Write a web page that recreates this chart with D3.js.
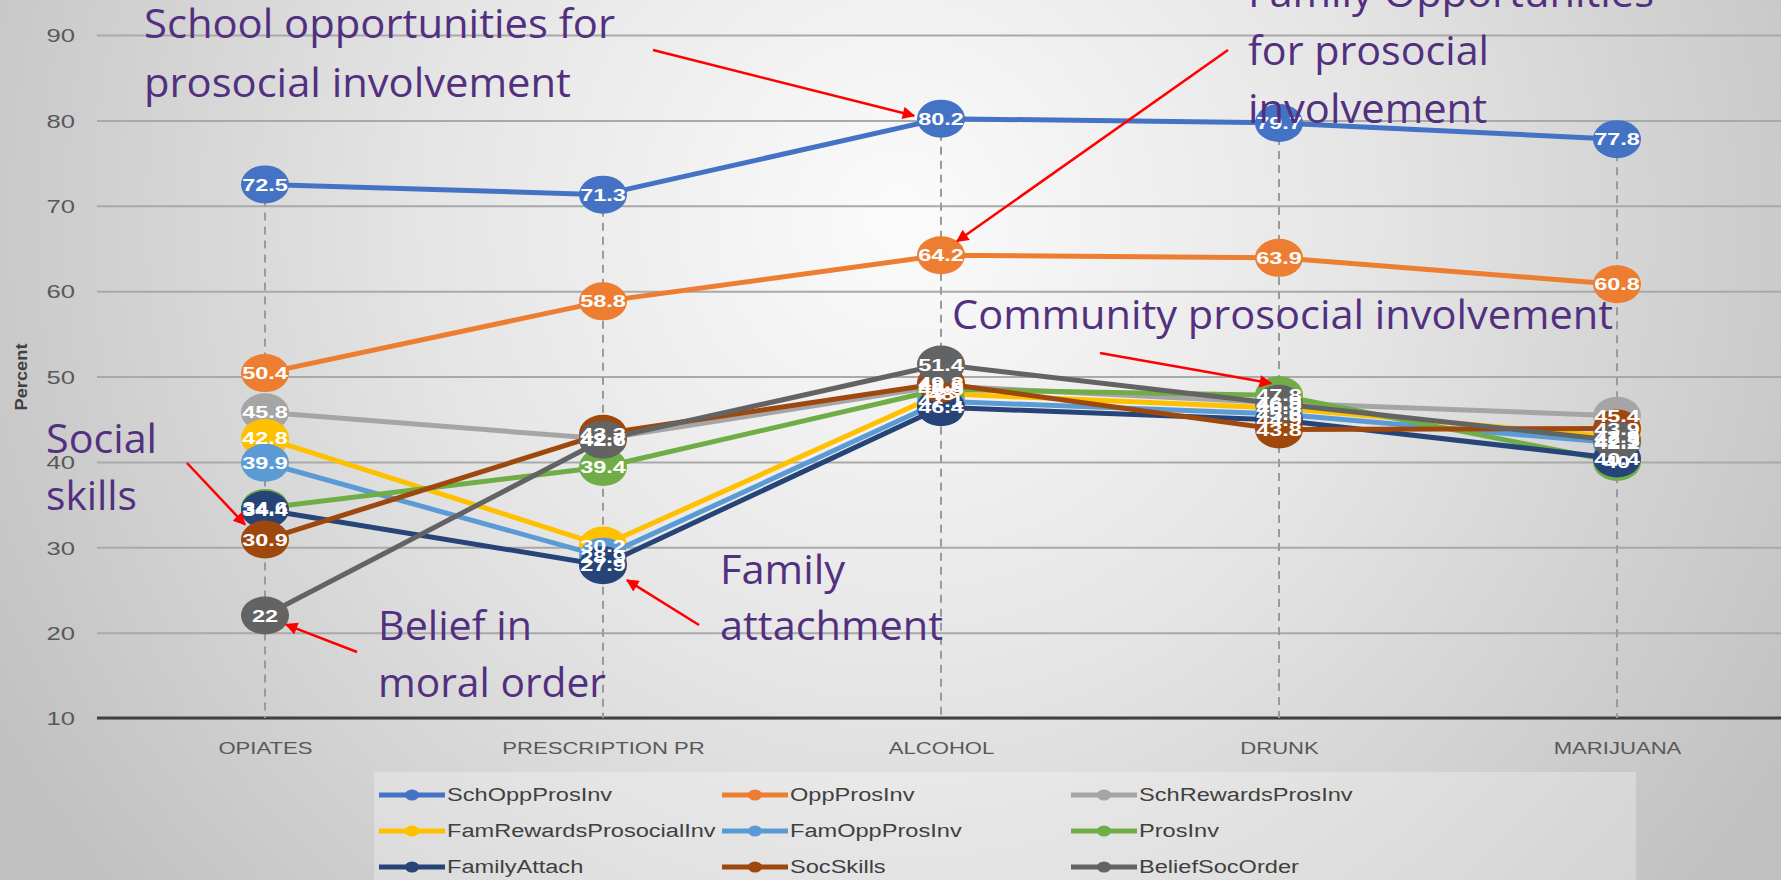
<!DOCTYPE html>
<html lang="en">
<head>
<meta charset="UTF-8">
<title>Prosocial involvement by substance</title>
<script src="https://d3js.org/d3.v7.min.js"></script>
<style>
  html, body { margin: 0; padding: 0; overflow: hidden; }
  svg { display: block; }
</style>
</head>
<body>
<svg id="chart"></svg>
<script>
var width = 1781, height = 880;

// ---- data ----
var categories = ["OPIATES", "PRESCRIPTION PR", "ALCOHOL", "DRUNK", "MARIJUANA"];
var seriesNames = ["SchOppProsInv", "OppProsInv", "SchRewardsProsInv",
                   "FamRewardsProsocialInv", "FamOppProsInv", "ProsInv",
                   "FamilyAttach", "SocSkills", "BeliefSocOrder"];
var seriesColors = ["#4472c4", "#ed7d31", "#a5a5a5",
                    "#ffc000", "#5b9bd5", "#70ad47",
                    "#264478", "#9e480e", "#636363"];

var schOppProsInv     = [72.5, 71.3, 80.2, 79.7, 77.8];
var oppProsInv        = [50.4, 58.8, 64.2, 63.9, 60.8];
var schRewardsProsInv = [45.8, 42.7, 48.9, 46.9, 45.4];
var famRewardsProsInv = [42.8, 30.2, 48.0, 46.3, 42.9];
var famOppProsInv     = [39.9, 28.9, 47.1, 45.6, 42.2];
var prosInv           = [34.6, 39.4, 48.5, 47.8, 40.0];
var familyAttach      = [34.4, 27.9, 46.4, 44.9, 40.4];
var socSkills         = [30.9, 43.3, 49.2, 43.8, 43.9];
var beliefSocOrder    = [22.0, 42.6, 51.4, 46.8, 42.5];

var yTicks = [10, 20, 30, 40, 50, 60, 70, 80, 90];

var seriesValues = [schOppProsInv, oppProsInv, schRewardsProsInv,
                    famRewardsProsInv, famOppProsInv, prosInv,
                    familyAttach, socSkills, beliefSocOrder];

var series = seriesNames.map(function (n, i) {
    return {name: n, color: seriesColors[i], values: seriesValues[i].map(function (v, j) {
        return {cat: categories[j], v: v};
    })};
});

// ---- setup ----
var svg = d3.select("#chart").attr("width", width).attr("height", height);
var defs = svg.append("defs");

var bg = defs.append("radialGradient").attr("id", "bg")
    .attr("gradientUnits", "userSpaceOnUse")
    .attr("cx", 900).attr("cy", 220).attr("r", 1050);
bg.append("stop").attr("offset", "0").attr("stop-color", "#fbfbfb");
bg.append("stop").attr("offset", "0.45").attr("stop-color", "#e5e5e5");
bg.append("stop").attr("offset", "1").attr("stop-color", "#c0c0c0");

defs.append("marker").attr("id", "arrow")
    .attr("viewBox", "0 0 10 10").attr("refX", 9).attr("refY", 5)
    .attr("markerWidth", 6).attr("markerHeight", 5).attr("orient", "auto")
    .attr("markerUnits", "strokeWidth")
    .append("path").attr("d", "M0,0 L10,5 L0,10 z").attr("fill", "#ff0000");

svg.append("rect").attr("width", width).attr("height", height).attr("fill", "url(#bg)");

// text looks horizontally stretched in the original
function stretch(sel, k) {
    sel.each(function () {
        var w = this.getComputedTextLength();
        d3.select(this).attr("textLength", w * k).attr("lengthAdjust", "spacingAndGlyphs");
    });
}

var x = d3.scalePoint().domain(categories).range([265, 1617]);
var y = d3.scaleLinear().domain([10, 90]).range([718, 35]);

// gridlines + tick labels
var yAxis = d3.axisLeft(y).tickValues(yTicks).tickSize(-(width - 97)).tickPadding(22);
var gy = svg.append("g").attr("transform", "translate(97,0)").call(yAxis);
gy.select(".domain").remove();
gy.selectAll(".tick line").attr("stroke", "#a9a9a9").attr("stroke-width", 2);
gy.selectAll(".tick text")
    .attr("fill", "#595959").style("font-family", "Liberation Sans, Arial, sans-serif")
    .style("font-size", "19px").attr("dy", "0.36em");
stretch(gy.selectAll(".tick text"), 1.35);

// base axis
var xAxis = d3.axisBottom(x).tickSize(0).tickPadding(24);
var gx = svg.append("g").attr("transform", "translate(0," + y(10) + ")").call(xAxis);
gx.select(".domain").attr("d", "M97,0H" + width).attr("stroke", "#404040").attr("stroke-width", 3);
gx.selectAll(".tick text")
    .attr("fill", "#595959").style("font-family", "Liberation Sans, Arial, sans-serif")
    .style("font-size", "17px");
stretch(gx.selectAll(".tick text"), 1.3);

// y title
var yt = svg.append("text")
    .attr("transform", "translate(27,377) rotate(-90)")
    .attr("text-anchor", "middle")
    .attr("fill", "#404040")
    .style("font-family", "Liberation Sans, Arial, sans-serif")
    .style("font-weight", "bold").style("font-size", "16px")
    .text("Percent");
stretch(yt, 1.14);

// drop lines from highest point
svg.append("g").selectAll("line").data(categories).enter().append("line")
    .attr("x1", function (c) { return x(c); })
    .attr("x2", function (c) { return x(c); })
    .attr("y1", function (c, j) { return y(d3.max(seriesValues, function (s) { return s[j]; })); })
    .attr("y2", y(10))
    .attr("stroke", "#9a9a9a").attr("stroke-width", 2).attr("stroke-dasharray", "8,6");

// series lines and markers
var line = d3.line().x(function (d) { return x(d.cat); }).y(function (d) { return y(d.v); });
var sg = svg.append("g").selectAll("g").data(series).enter().append("g");
sg.append("path")
    .attr("d", function (s) { return line(s.values); })
    .attr("fill", "none").attr("stroke", function (s) { return s.color; })
    .attr("stroke-width", 5).attr("stroke-linejoin", "round");
sg.selectAll("ellipse").data(function (s) { return s.values.map(function (d) { return {d: d, c: s.color}; }); })
    .enter().append("ellipse")
    .attr("cx", function (p) { return x(p.d.cat); })
    .attr("cy", function (p) { return y(p.d.v); })
    .attr("rx", 24).attr("ry", 19)
    .attr("fill", function (p) { return p.c; });

// data labels
var lg = svg.append("g");
series.forEach(function (s) {
    lg.selectAll(null).data(s.values).enter().append("text")
        .attr("x", function (d) { return x(d.cat); })
        .attr("y", function (d) { return y(d.v); })
        .attr("dy", "0.36em")
        .attr("text-anchor", "middle")
        .attr("fill", "#ffffff")
        .style("font-family", "Liberation Sans, Arial, sans-serif")
        .style("font-weight", "bold").style("font-size", "17px")
        .text(function (d) { return d3.format("~")(d.v); });
});
stretch(lg.selectAll("text"), 1.38);

// legend
var legend = svg.append("g");
legend.append("rect").attr("x", 374).attr("y", 772).attr("width", 1262).attr("height", 120)
    .attr("fill", "#ffffff").attr("fill-opacity", 0.28);
var legCols = [379, 722, 1071], legRows = [795, 831, 867];
var li = legend.selectAll("g").data(series).enter().append("g")
    .attr("transform", function (s, i) {
        return "translate(" + legCols[i % 3] + "," + legRows[Math.floor(i / 3)] + ")";
    });
li.append("line").attr("x1", 0).attr("x2", 66)
    .attr("stroke", function (s) { return s.color; }).attr("stroke-width", 5);
li.append("ellipse").attr("cx", 33).attr("rx", 7).attr("ry", 5.5)
    .attr("fill", function (s) { return s.color; });
li.append("text").attr("x", 68).attr("dy", "0.36em")
    .attr("fill", "#404040")
    .style("font-family", "Liberation Sans, Arial, sans-serif").style("font-size", "18px")
    .text(function (s) { return s.name; });
stretch(li.selectAll("text"), 1.31);

// annotations (purple text, red arrows)
var notes = [
    {x: 144, lines: [["School opportunities for", 38, 471], ["prosocial involvement", 97, 427]]},
    {x: 1248, lines: [["Family Opportunities", 7, 406], ["for prosocial", 65, 241], ["involvement", 123, 239]]},
    {x: 952, lines: [["Community prosocial involvement", 329, 661]]},
    {x: 46, lines: [["Social", 453, 111], ["skills", 510, 91]]},
    {x: 378, lines: [["Belief in", 640, 154], ["moral order", 697, 228]]},
    {x: 720, lines: [["Family", 584, 125], ["attachment", 640, 223]]}
];
var ng = svg.append("g");
notes.forEach(function (n) {
    n.lines.forEach(function (l) {
        ng.append("text").attr("x", n.x).attr("y", l[1])
            .attr("textLength", l[2]).attr("lengthAdjust", "spacingAndGlyphs")
            .attr("fill", "#52307f")
            .style("font-family", "'Open Sans', Lato, sans-serif").style("font-size", "40px")
            .text(l[0]);
    });
});

// arrows: start near the note, tip at a data point (category, value) plus small offset
var arrows = [
    {from: [653, 50], cat: "ALCOHOL", v: 80.2, off: [-27, -3]},
    {from: [1228, 50], cat: "ALCOHOL", v: 64.2, off: [16, -14]},
    {from: [1100, 353], cat: "DRUNK", v: 47.8, off: [-8, -12]},
    {from: [187, 463], cat: "OPIATES", v: 30.9, off: [-20, -15]},
    {from: [357, 652], cat: "OPIATES", v: 22, off: [21, 9]},
    {from: [699, 625], cat: "PRESCRIPTION PR", v: 27.9, off: [24, 15]}
];
svg.append("g").selectAll("line").data(arrows).enter().append("line")
    .attr("x1", function (a) { return a.from[0]; })
    .attr("y1", function (a) { return a.from[1]; })
    .attr("x2", function (a) { return x(a.cat) + a.off[0]; })
    .attr("y2", function (a) { return y(a.v) + a.off[1]; })
    .attr("stroke", "#ff0000").attr("stroke-width", 2.5)
    .attr("marker-end", "url(#arrow)");
</script>
</body>
</html>
